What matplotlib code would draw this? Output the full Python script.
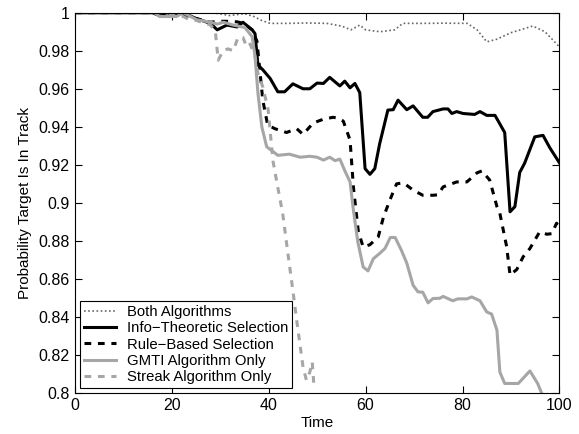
import matplotlib.pyplot as plt
from matplotlib.ticker import FuncFormatter

plt.rcParams['font.family'] = ['Liberation Sans', 'DejaVu Sans']

# Both Algorithms (dotted)
both_t = [0, 20, 28.6, 32, 35, 37, 38.5, 40.3, 44, 48, 52, 55, 57, 58.8, 60, 63, 66, 67.7, 72, 76, 81, 83, 85, 87, 90, 94.5, 97, 100]
both_p = [1.0, 1.0, 1.0, 0.9985, 0.9995, 0.998, 0.996, 0.9944, 0.9944, 0.9946, 0.9944, 0.993, 0.991, 0.9935, 0.991, 0.990, 0.991, 0.9944, 0.9944, 0.9945, 0.9944, 0.991, 0.9847, 0.986, 0.9895, 0.993, 0.990, 0.982]

# Info-Theoretic Selection (black solid)
info_t = [0, 16, 17.5, 19, 20.5, 22.4, 25, 28, 29.4, 31.4, 33.5, 34.7, 36.6, 37.2, 37.8, 38.8, 40.3, 41.9, 43.3, 45, 47.1, 48.5, 50,
          51.3, 52.6, 54.7, 55.7, 56.8, 57.8, 58.8, 59.9, 60.9, 61.9, 62.9, 64.6, 65.7, 66.7, 68.5, 69.8, 71.8, 72.8, 73.9,
          76, 77, 77.8, 78.8, 80.1, 82.5, 83.6, 85, 86.7, 88.7, 89.8, 90.8, 91.8, 92.8, 94.9, 96.6, 98, 100]
info_p = [1.0, 1.0, 0.9985, 1.0, 0.999, 1.0, 0.997, 0.9944, 0.991, 0.9935, 0.9925, 0.995, 0.991, 0.989, 0.9725, 0.970, 0.9655, 0.9584, 0.9584, 0.9626, 0.960, 0.960, 0.963,
          0.9628, 0.966, 0.9615, 0.964, 0.9605, 0.9628, 0.958, 0.918, 0.915, 0.918, 0.931, 0.9488, 0.949, 0.954, 0.949, 0.951, 0.945, 0.945, 0.948,
          0.9494, 0.9494, 0.947, 0.948, 0.947, 0.9465, 0.948, 0.946, 0.946, 0.937, 0.8953, 0.898, 0.916, 0.9208, 0.9347, 0.9355, 0.929, 0.921]

# Rule-Based Selection (black dashed)
rule_t = [0, 20, 22, 25, 28, 30, 31.4, 33.5, 34.7, 36.6, 37.6, 38.8, 39.8, 41.3, 43.7, 45.8, 47.1, 49.2, 51.3, 53.3, 54.4, 55.4, 56.8, 57.5,
          58.5, 59.5, 60.9, 62.6, 63.7, 65.1, 66.4, 67.7, 68.1, 69.8, 71.8, 73.9, 74.9, 76, 78.8, 80.9, 83, 84, 85.6, 87.1, 87.7, 89.1,
          89.8, 91.2, 92.5, 93.9, 95.9, 97.4, 98.4, 99.4, 100]
rule_p = [1.0, 1.0, 0.999, 0.997, 0.995, 0.9955, 0.9955, 0.9952, 0.9945, 0.991, 0.985, 0.954, 0.941, 0.939, 0.937, 0.939, 0.936, 0.942, 0.944, 0.945, 0.9445, 0.943, 0.933, 0.908,
          0.885, 0.8768, 0.878, 0.882, 0.8926, 0.902, 0.910, 0.9105, 0.910, 0.9067, 0.904, 0.904, 0.9042, 0.9084, 0.911, 0.911, 0.9158, 0.9168, 0.912, 0.898, 0.8945, 0.877,
          0.862, 0.865, 0.8716, 0.876, 0.8847, 0.8835, 0.8838, 0.8893, 0.887]

# GMTI Algorithm Only (gray solid)
gmti_t = [0, 16.5, 17.5, 21, 22.4, 25.2, 28, 29.4, 30.7, 32.7, 35.1, 36.6, 37.2, 37.8, 38.6, 39.6, 40.9, 41.9, 44.3, 46.5, 48.5, 50, 51.3, 52.6, 53.7,
          54.7, 55.7, 56.8, 57.5, 58.4, 59.5, 60.5, 61.6, 62.9, 64, 65.1, 66.1, 67.4, 68.5, 69.8, 70.8, 71.8, 72.9, 73.9, 75.3, 76, 78, 79,
          80.9, 81.9, 83.6, 85, 86, 87.1, 87.7, 88.7, 91.5, 93.9, 95.5, 96.3, 97.5]
gmti_p = [1.0, 1.0, 0.998, 0.998, 1.0, 0.9963, 0.995, 0.994, 0.995, 0.9935, 0.9922, 0.9874, 0.977, 0.9577, 0.940, 0.9295, 0.927, 0.925, 0.9256, 0.924, 0.9245, 0.924, 0.9225, 0.924, 0.9222,
          0.923, 0.917, 0.911, 0.896, 0.8795, 0.8663, 0.8642, 0.8706, 0.8734, 0.876, 0.8818, 0.8818, 0.875, 0.8683, 0.8567, 0.8532, 0.853, 0.8474, 0.8497, 0.8498, 0.8508, 0.8485, 0.8495,
          0.8495, 0.8505, 0.8485, 0.8426, 0.8415, 0.833, 0.811, 0.805, 0.805, 0.8116, 0.805, 0.800, 0.794]

# Streak Algorithm Only (light gray dashed)
streak_t = [0, 19, 22.4, 23.5, 25, 28, 29, 29.6, 30.6, 31.6, 32.7, 33.7, 34.7, 35.5, 36.2, 37.2, 37.8, 38.8, 39.9, 40.9, 41.9, 42.9, 44, 45,
            45.8, 47.1, 47.8, 48.5, 49, 49.4]
streak_p = [1.0, 1.0, 0.998, 0.9965, 0.996, 0.9935, 0.9905, 0.975, 0.98, 0.981, 0.98, 0.987, 0.987, 0.982, 0.9835, 0.977, 0.968, 0.961, 0.949, 0.922, 0.908, 0.8945, 0.873, 0.854,
            0.838, 0.8137, 0.8067, 0.811, 0.8163, 0.802]

fig = plt.figure(figsize=(5.79, 4.34), dpi=100)
ax = fig.add_axes([0.129, 0.0945, 0.8373, 0.8762])

ax.plot(both_t, both_p, color='#666666', lw=1.2, ls=(0, (1, 1.5)), label='Both Algorithms')
ax.plot(info_t, info_p, color='black', lw=2.2, label='Info\u2212Theoretic Selection')
ax.plot(rule_t, rule_p, color='black', lw=2.2, ls=(0, (2.2, 2.2)), label='Rule\u2212Based Selection')
ax.plot(gmti_t, gmti_p, color='#a6a6a6', lw=2.2, label='GMTI Algorithm Only')
ax.plot(streak_t, streak_p, color='#a6a6a6', lw=2.2, ls=(0, (2.2, 2.2)), label='Streak Algorithm Only')

ax.set_xlim(0, 100)
ax.set_ylim(0.8, 1.0)
ax.set_xticks([0, 20, 40, 60, 80, 100])
ax.set_yticks([0.8, 0.82, 0.84, 0.86, 0.88, 0.9, 0.92, 0.94, 0.96, 0.98, 1.0])
ax.yaxis.set_major_formatter(FuncFormatter(lambda v, p: '%g' % round(v, 2)))
ax.tick_params(direction='in', top=True, right=True, labelsize=11.5, length=5)
ax.set_xlabel('Time', fontsize=11, labelpad=2)
ax.set_ylabel('Probability Target Is In Track', fontsize=11, labelpad=5)

leg = ax.legend(loc='lower left', fontsize=10.7, fancybox=False, edgecolor='black',
                framealpha=1, borderaxespad=0.35, handlelength=2.2, labelspacing=0.15,
                borderpad=0.25, handletextpad=0.7)
leg.get_frame().set_linewidth(0.8)

fig.savefig('out.png', dpi=100)
